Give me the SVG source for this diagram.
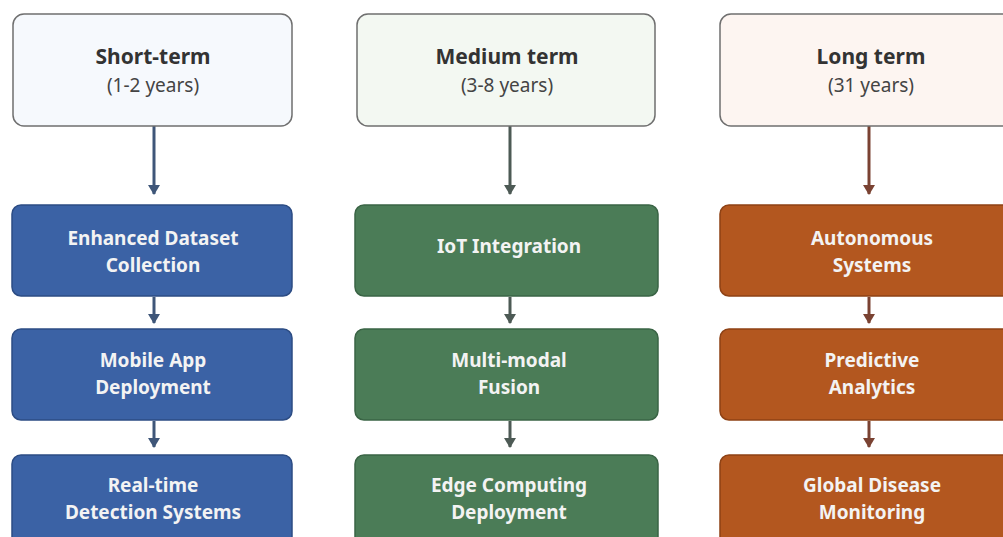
<svg xmlns="http://www.w3.org/2000/svg" width="1003" height="537" viewBox="0 0 1003 537">
<defs>
<marker id="ahB" markerWidth="12" markerHeight="10" refX="6" refY="9" markerUnits="userSpaceOnUse" viewBox="0 0 12 10"><path d="M0,0 L12,0 L6,10 Z" fill="#3f5679"/></marker>
<marker id="ahG" markerWidth="12" markerHeight="10" refX="6" refY="9" markerUnits="userSpaceOnUse" viewBox="0 0 12 10"><path d="M0,0 L12,0 L6,10 Z" fill="#4d5a55"/></marker>
<marker id="ahO" markerWidth="12" markerHeight="10" refX="6" refY="9" markerUnits="userSpaceOnUse" viewBox="0 0 12 10"><path d="M0,0 L12,0 L6,10 Z" fill="#7a4232"/></marker>
</defs>
<style>
.hdr{stroke:#6f6f6f;stroke-width:1.5}
.ht{font-family:"Noto Sans","Open Sans",sans-serif;font-weight:700;font-size:21px;fill:#333;text-anchor:middle}
.hs{font-family:"Noto Sans","Open Sans",sans-serif;font-weight:400;font-size:19px;fill:#444;text-anchor:middle}
.bt{font-family:"Noto Sans","Open Sans",sans-serif;font-weight:700;font-size:19px;fill:#f3f3f3;text-anchor:middle}
.blue{fill:#3b62a5;stroke:#2c4c84;stroke-width:1.5}
.green{fill:#4b7c57;stroke:#3a6445;stroke-width:1.5}
.orange{fill:#b3571f;stroke:#8e4215;stroke-width:1.5}
.cB{stroke:#3f5679;stroke-width:3;fill:none}
.cG{stroke:#4d5a55;stroke-width:3;fill:none}
.cO{stroke:#7a4232;stroke-width:3;fill:none}
</style>
<rect width="1003" height="537" fill="#ffffff"/>
<g id="connectors">
<line class="cB" x1="154" y1="126" x2="154" y2="194" marker-end="url(#ahB)"/>
<line class="cB" x1="154" y1="297" x2="154" y2="323" marker-end="url(#ahB)"/>
<line class="cB" x1="154" y1="421" x2="154" y2="447" marker-end="url(#ahB)"/>
<line class="cG" x1="510" y1="126" x2="510" y2="194" marker-end="url(#ahG)"/>
<line class="cG" x1="510" y1="297" x2="510" y2="323" marker-end="url(#ahG)"/>
<line class="cG" x1="510" y1="421" x2="510" y2="447" marker-end="url(#ahG)"/>
<line class="cO" x1="869" y1="126" x2="869" y2="194" marker-end="url(#ahO)"/>
<line class="cO" x1="869" y1="297" x2="869" y2="323" marker-end="url(#ahO)"/>
<line class="cO" x1="869" y1="421" x2="869" y2="447" marker-end="url(#ahO)"/>
</g>
<g id="short-term">
<rect class="hdr" x="13" y="14" width="279" height="112" rx="11" fill="#f6f9fd"/>
<text class="ht" x="153" y="64">Short-term</text>
<text class="hs" x="153" y="92">(1-2 years)</text>
</g>
<g id="medium-term">
<rect class="hdr" x="357" y="14" width="298" height="112" rx="11" fill="#f3f8f2"/>
<text class="ht" x="507" y="64">Medium term</text>
<text class="hs" x="507" y="92">(3-8 years)</text>
</g>
<g id="long-term">
<rect class="hdr" x="720" y="14" width="300" height="112" rx="11" fill="#fdf5f1"/>
<text class="ht" x="871" y="64">Long term</text>
<text class="hs" x="871" y="92">(31 years)</text>
</g>
<g id="enhanced-dataset">
<rect class="blue" x="12" y="205" width="280" height="91" rx="9"/>
<text class="bt" x="153" y="245">Enhanced Dataset</text>
<text class="bt" x="153" y="272">Collection</text>
</g>
<g id="mobile-app">
<rect class="blue" x="12" y="329" width="280" height="91" rx="9"/>
<text class="bt" x="153" y="367">Mobile App</text>
<text class="bt" x="153" y="394">Deployment</text>
</g>
<g id="real-time">
<rect class="blue" x="12" y="455" width="280" height="100" rx="9"/>
<text class="bt" x="153" y="492">Real-time</text>
<text class="bt" x="153" y="519">Detection Systems</text>
</g>
<g id="iot">
<rect class="green" x="355" y="205" width="303" height="91" rx="9"/>
<text class="bt" x="509" y="253">IoT Integration</text>
</g>
<g id="multimodal">
<rect class="green" x="355" y="329" width="303" height="91" rx="9"/>
<text class="bt" x="509" y="367">Multi-modal</text>
<text class="bt" x="509" y="394">Fusion</text>
</g>
<g id="edge">
<rect class="green" x="355" y="455" width="303" height="100" rx="9"/>
<text class="bt" x="509" y="492">Edge Computing</text>
<text class="bt" x="509" y="519">Deployment</text>
</g>
<g id="autonomous">
<rect class="orange" x="720" y="205" width="300" height="91" rx="9"/>
<text class="bt" x="872" y="245">Autonomous</text>
<text class="bt" x="872" y="272">Systems</text>
</g>
<g id="predictive">
<rect class="orange" x="720" y="329" width="300" height="91" rx="9"/>
<text class="bt" x="872" y="367">Predictive</text>
<text class="bt" x="872" y="394">Analytics</text>
</g>
<g id="global">
<rect class="orange" x="720" y="455" width="300" height="100" rx="9"/>
<text class="bt" x="872" y="492">Global Disease</text>
<text class="bt" x="872" y="519">Monitoring</text>
</g>
</svg>
